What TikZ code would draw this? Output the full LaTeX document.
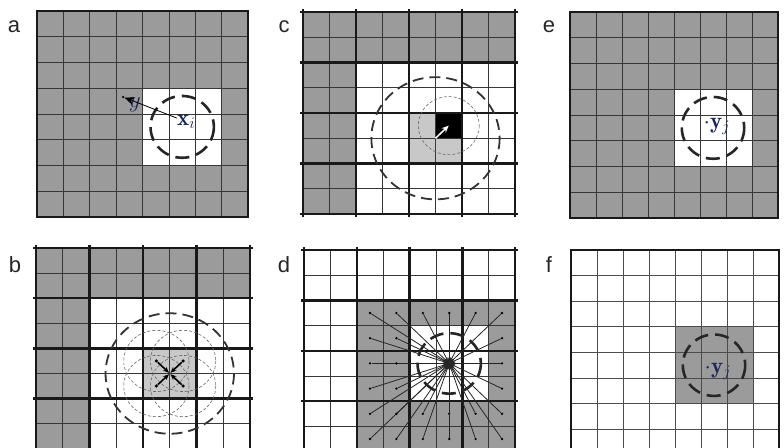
\RequirePackage{fix-cm}
\documentclass[tikz,border=0pt]{standalone}
\usepackage{fontspec}
\newfontfamily\labelfont{Liberation Sans}
\usetikzlibrary{arrows.meta}

\definecolor{cellgray}{RGB}{155,155,155}
\definecolor{celllight}{RGB}{200,200,200}
\definecolor{gridline}{RGB}{55,55,55}
\definecolor{inkblue}{RGB}{28,38,88}

\tikzset{
  panel label/.style={font=\labelfont\fontsize{22}{24}\selectfont, text=black!85},
  gray cell/.style={fill=cellgray},
  light cell/.style={fill=celllight},
  thin grid/.style={draw=gridline, line width=0.9pt},
  thick grid/.style={draw=black!90, line width=2.4pt},
  frame/.style={draw=black!90, line width=2.4pt},
  probe circle/.style={draw=black!85, line width=2.6pt, dash pattern=on 14pt off 7pt},
  search circle/.style={draw=black!80, line width=1.8pt, dash pattern=on 11pt off 6pt},
  patch circle/.style={draw=black!60, line width=0.6pt, dash pattern=on 3pt off 2pt},
  ray/.style={draw=black!85, line width=0.8pt, -{Stealth[length=6pt,width=4pt]}},
  dot/.style={circle, fill=black, inner sep=0pt, minimum size=2.6pt},
  mathlabel/.style={text=inkblue, font=\fontsize{23}{25}\selectfont, inner sep=0pt},
  long arrow/.style={draw=black, line width=0.8pt, -{Stealth[length=10pt,width=8pt]}},
  white arrow/.style={draw=white, line width=1.5pt, -{Stealth[length=7pt,width=6pt]}},
  short arrow/.style={draw=black, line width=1.6pt, shorten >=1pt, -{Stealth[length=6pt,width=5pt]}},
}

\begin{document}
\begin{tikzpicture}[x=1pt, y=1pt]
  \useasboundingbox (0,0) rectangle (784,447);

  % panel labels
  \node[panel label] (la) at (14,420) {a};
  \node[panel label] (lc) at (284,420) {c};
  \node[panel label] (le) at (549,420) {e};
  \node[panel label] (lb) at (15,182) {b};
  \node[panel label] (ld) at (284,182) {d};
  \node[panel label] (lf) at (549,182) {f};

  % a
  \begin{scope}[shift={(37pt,436pt)}, x=26.4pt, y=-25.75pt]
    \fill[gray cell] (0,0) rectangle (8,8);
    \fill[white] (4,3) rectangle (7,6);
    \foreach \k in {1,...,7} {
      \draw[thin grid] (\k,0) -- (\k,8);
      \draw[thin grid] (0,\k) -- (8,\k);
    }
    \draw[frame] (0,0) rectangle (8,8);
    \draw[probe circle] (5.5,4.5) circle [radius=1.2];
    \node[dot] (ya) at (3.26,3.34) {};
    \node[mathlabel] (xa) at (5.65,4.3) {$\mathbf{x}_i$};
    \node[mathlabel] (yla) at (3.7,3.65) {$y$};
    \draw[long arrow] (xa) -- (ya);
  \end{scope}

  % c
  \begin{scope}[shift={(303pt,435pt)}, x=26.5pt, y=-25.25pt]
    \fill[gray cell] (0,0) rectangle (8,2);
    \fill[gray cell] (0,2) rectangle (2,8);
    \fill[light cell] (4,4) rectangle (5,6);
    \fill[light cell] (5,5) rectangle (6,6);
    \fill[black] (5,4) rectangle (6,5);
    \foreach \k in {1,3,5,7} {
      \draw[thin grid] (\k,0) -- (\k,8);
      \draw[thin grid] (0,\k) -- (8,\k);
    }
    \foreach \k in {0,2,4,6,8} {
      \draw[thick grid] (\k,-0.1) -- (\k,8.1);
      \draw[thick grid] (-0.1,\k) -- (8.1,\k);
    }
    \draw[search circle] (5,5) circle [radius=2.42];
    \draw[patch circle] (5.5,4.5) circle [radius=1.15];
    \coordinate (cc) at (5,5);
    \coordinate (cb) at (5.5,4.5);
    \draw[white arrow] (cc) -- (cb);
  \end{scope}

  % e
  \begin{scope}[shift={(570pt,435pt)}, x=26pt, y=-25.75pt]
    \fill[gray cell] (0,0) rectangle (8,8);
    \fill[white] (4,3) rectangle (7,6);
    \foreach \k in {1,...,7} {
      \draw[thin grid] (\k,0) -- (\k,8);
      \draw[thin grid] (0,\k) -- (8,\k);
    }
    \draw[frame] (0,0) rectangle (8,8);
    \draw[probe circle] (5.5,4.5) circle [radius=1.2];
    \node[mathlabel] (ye) at (5.65,4.45) {${\cdot}\mathbf{y}_j$};
  \end{scope}

  % b
  \begin{scope}[shift={(36pt,199pt)}, x=26.75pt, y=-25.1pt]
    \fill[gray cell] (0,0) rectangle (8,2);
    \fill[gray cell] (0,2) rectangle (2,8);
    \fill[light cell] (4,4) rectangle (6,6);
    \foreach \k in {1,3,5,7} {
      \draw[thin grid] (\k,0) -- (\k,8);
      \draw[thin grid] (0,\k) -- (8,\k);
    }
    \foreach \k in {0,2,4,6,8} {
      \draw[thick grid] (\k,-0.1) -- (\k,8.1);
      \draw[thick grid] (-0.1,\k) -- (8.1,\k);
    }
    \draw[search circle] (5,5) circle [radius=2.4];
    \coordinate (bc) at (5,5);
    \foreach \i/\j in {4.5/4.5,5.5/4.5,4.5/5.5,5.5/5.5} {
      \draw[patch circle] (\i,\j) circle [radius=1.22];
    }
    \foreach \i/\j [count=\n] in {4.5/4.5,5.5/4.5,4.5/5.5,5.5/5.5} {
      \node[dot, minimum size=3.6pt] (b\n) at (\i,\j) {};
      \draw[short arrow] (b\n) -- (bc);
    }
  \end{scope}

  % d
  \begin{scope}[shift={(304pt,197pt)}, x=26.4pt, y=-25.2pt]
    \fill[gray cell] (2,2) rectangle (8,8);
    \fill[white] (4,3) rectangle (7,6);
    \foreach \k in {1,3,5,7} {
      \draw[thin grid] (\k,0) -- (\k,8);
      \draw[thin grid] (0,\k) -- (8,\k);
    }
    \foreach \k in {0,2,4,6,8} {
      \draw[thick grid] (\k,-0.1) -- (\k,8.1);
      \draw[thick grid] (-0.1,\k) -- (8.1,\k);
    }
    \draw[probe circle] (5.5,4.5) circle [radius=1.2];
    \coordinate (dc) at (5.5,4.5);
    \foreach \i in {2,...,7} {
      \foreach \j in {2,...,7} {
        \pgfmathtruncatemacro{\inblock}{and(and(\i>3,\i<7),and(\j>2,\j<6))}
        \ifnum\inblock=0
          \node[dot, minimum size=2.6pt] (d-\i-\j) at (\i+0.5,\j+0.5) {};
          \draw[ray] (d-\i-\j) -- (dc);
        \fi
      }
    }
  \end{scope}

  % f
  \begin{scope}[shift={(571pt,197pt)}, x=26pt, y=-25.6pt]
    \fill[gray cell] (4,3) rectangle (7,6);
    \foreach \k in {1,...,7} {
      \draw[thin grid, draw=black!70] (\k,0) -- (\k,8);
      \draw[thin grid, draw=black!70] (0,\k) -- (8,\k);
    }
    \draw[frame] (0,0) rectangle (8,8);
    \draw[probe circle] (5.5,4.5) circle [radius=1.2];
    \node[mathlabel] (yf) at (5.65,4.75) {${\cdot}\mathbf{y}_j$};
  \end{scope}
\end{tikzpicture}
\end{document}
